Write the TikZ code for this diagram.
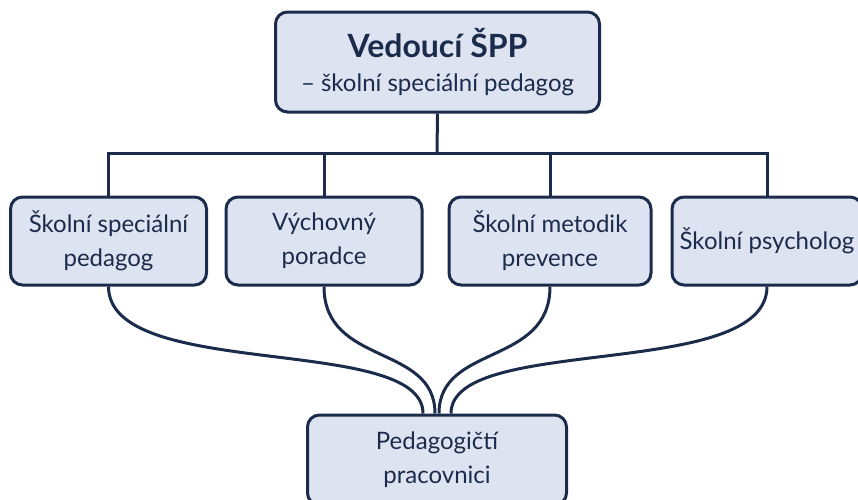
\documentclass[tikz,border=0pt]{standalone}
\usepackage{fontspec}
\setmainfont{Lato}
\usetikzlibrary{positioning}
\definecolor{navy}{HTML}{1B2B4B}
\definecolor{boxfill}{HTML}{DEE3F1}
\tikzstyle{box}  = [draw=navy, fill=boxfill, line width=1.5pt, rounded corners=6pt, align=center, text=navy, minimum width=98pt, minimum height=44pt, font=\fontsize{12}{17}\selectfont]
\tikzstyle{link} = [draw=navy, line width=1.5pt]

\begin{document}
\begin{tikzpicture}[x=0.5pt,y=-0.5pt]
	\useasboundingbox (0,0) rectangle (858,499);
	\node[box, minimum width=162pt, minimum height=50pt] (head) at (437.5,62)
		{{\fontsize{16}{20}\selectfont\bfseries Vedoucí ŠPP}\\– školní speciální pedagog};
	\node[box] (ssp) at (108.5,241) {Školní speciální\\pedagog};
	\node[box] (vp) at (324,241) {Výchovný\\poradce};
	\node[box, minimum width=101pt] (smp) at (550,241) {Školní metodik\\prevence};
	\node[box, minimum width=95pt] (psy) at (767,241) {Školní psycholog};
	\node[box, minimum width=129.5pt, minimum height=45pt] (staff) at (437,460) {Pedagogičtí\\pracovnici};

	\coordinate (bar) at (437,153);
	\draw[link] (head.south) -- (bar);
	\draw[link] (ssp.north) |- (bar);
	\draw[link] (vp.north) |- (bar);
	\draw[link] (smp.north) |- (bar);
	\draw[link] (psy.north) |- (bar);

	\draw[link] (ssp.south) .. controls +(0,95) and +(0,-80) .. ([xshift=-7pt]staff.north);
	\draw[link] (vp.south) .. controls +(0,80) and +(0,-70) .. ([xshift=-1pt]staff.north);
	\draw[link] (smp.south) .. controls +(0,80) and +(0,-70) .. ([xshift=1pt]staff.north);
	\draw[link] (psy.south) .. controls +(0,95) and +(0,-80) .. ([xshift=7pt]staff.north);
\end{tikzpicture}
\end{document}
